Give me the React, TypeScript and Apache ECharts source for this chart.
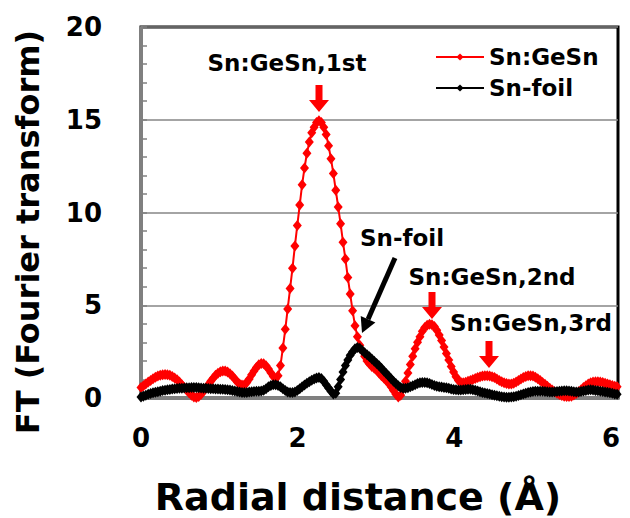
import React, { useEffect, useRef } from "react";
import * as echarts from "echarts";

// Radial grid step (Å) of the FT data
const R_STEP = 0.0307;

// FT magnitude, Sn:GeSn (red)
const gesnFT = [
  0.56, 0.66, 0.76, 0.86, 0.95, 1.04, 1.12, 1.18, 1.23, 1.26,
  1.27, 1.26, 1.22, 1.16, 1.08, 0.98, 0.86, 0.72, 0.57, 0.42,
  0.28, 0.15, 0.06, 0.03, 0.08, 0.2, 0.36, 0.54, 0.72, 0.9,
  1.07, 1.22, 1.34, 1.42, 1.46, 1.45, 1.4, 1.31, 1.18, 1.03,
  0.88, 0.76, 0.7, 0.72, 0.84, 1.03, 1.25, 1.46, 1.65, 1.79,
  1.86, 1.84, 1.74, 1.57, 1.36, 1.16, 1.05, 1.2, 1.75, 2.7,
  3.7, 4.8, 5.9, 7.0, 8.2, 9.3, 10.4, 11.5, 12.4, 13.2,
  13.8, 14.3, 14.6, 14.85, 14.95, 14.85, 14.6, 14.2, 13.6, 12.9,
  12.1, 11.2, 10.3, 9.4, 8.4, 7.5, 6.5, 5.6, 4.7, 3.9,
  3.3, 2.85, 2.55, 2.25, 2.0, 1.85, 1.7, 1.6, 1.5, 1.35,
  1.2, 1.08, 0.95, 0.8, 0.6, 0.4, 0.2, 0.06, 0.15, 0.5,
  0.9, 1.35, 1.8, 2.25, 2.65, 3.0, 3.3, 3.6, 3.8, 3.92,
  3.97, 3.95, 3.85, 3.65, 3.4, 3.1, 2.75, 2.4, 2.05, 1.7,
  1.4, 1.15, 0.95, 0.85, 0.82, 0.85, 0.9, 0.95, 1.0, 1.05,
  1.1, 1.15, 1.18, 1.2, 1.2, 1.18, 1.15, 1.1, 1.02, 0.95,
  0.88, 0.82, 0.78, 0.76, 0.76, 0.8, 0.86, 0.94, 1.02, 1.1,
  1.16, 1.2, 1.2, 1.18, 1.12, 1.04, 0.94, 0.84, 0.74, 0.63,
  0.53, 0.43, 0.34, 0.26, 0.19, 0.14, 0.1, 0.08, 0.08, 0.1,
  0.16, 0.24, 0.34, 0.45, 0.56, 0.66, 0.75, 0.82, 0.86, 0.88,
  0.88, 0.86, 0.83, 0.79, 0.75, 0.71, 0.67, 0.63, 0.6,
];

// FT magnitude, Sn-foil (black)
const foilFT = [
  0.05, 0.1, 0.15, 0.2, 0.24, 0.28, 0.31, 0.34, 0.37, 0.4,
  0.42, 0.44, 0.46, 0.48, 0.5, 0.51, 0.52, 0.53, 0.54, 0.55,
  0.55, 0.56, 0.56, 0.56, 0.55, 0.54, 0.53, 0.52, 0.51, 0.5,
  0.5, 0.49, 0.48, 0.47, 0.47, 0.46, 0.45, 0.43, 0.41, 0.38,
  0.35, 0.32, 0.3, 0.29, 0.3, 0.32, 0.34, 0.35, 0.36, 0.36,
  0.38, 0.42, 0.5, 0.6, 0.68, 0.72, 0.72, 0.68, 0.6, 0.5,
  0.4, 0.33, 0.3, 0.3, 0.33, 0.4, 0.5, 0.6, 0.7, 0.8,
  0.88, 0.96, 1.03, 1.08, 1.1, 1.05, 0.9, 0.72, 0.54, 0.36,
  0.22, 0.25, 0.6, 1.0, 1.4, 1.75, 2.05, 2.3, 2.5, 2.65,
  2.72, 2.68, 2.56, 2.44, 2.33, 2.22, 2.1, 1.98, 1.86, 1.74,
  1.6, 1.46, 1.32, 1.18, 1.04, 0.9, 0.78, 0.66, 0.57, 0.52,
  0.52, 0.55, 0.6, 0.66, 0.72, 0.78, 0.82, 0.84, 0.84, 0.82,
  0.78, 0.73, 0.68, 0.64, 0.61, 0.59, 0.57, 0.55, 0.52, 0.49,
  0.46, 0.44, 0.43, 0.43, 0.44, 0.46, 0.47, 0.47, 0.45, 0.42,
  0.38, 0.34, 0.3, 0.27, 0.24, 0.21, 0.18, 0.15, 0.12, 0.09,
  0.07, 0.05, 0.04, 0.04, 0.05, 0.07, 0.1, 0.14, 0.18, 0.22,
  0.26, 0.3, 0.33, 0.35, 0.36, 0.37, 0.37, 0.36, 0.35, 0.34,
  0.33, 0.33, 0.34, 0.35, 0.37, 0.38, 0.39, 0.39, 0.38, 0.36,
  0.34, 0.33, 0.33, 0.35, 0.38, 0.41, 0.43, 0.44, 0.43, 0.41,
  0.39, 0.37, 0.35, 0.33, 0.31, 0.28, 0.25, 0.22, 0.2,
];

const seriesNames = ["Sn:GeSn", "Sn-foil"];
const xTickValues = [0, 2, 4, 6];
const X_MAX = 6.09;

const FONT = '"DejaVu Sans", sans-serif';

function toPairs(vals: number[]) {
  return vals.map((v, i) => [Number((i * R_STEP).toFixed(4)), v]);
}

function redArrow(x: number, y: number) {
  return {
    type: "polygon",
    z: 100,
    shape: {
      points: [
        [x - 3.5, y],
        [x + 3.5, y],
        [x + 3.5, y + 15],
        [x + 10, y + 15],
        [x, y + 27],
        [x - 10, y + 15],
        [x - 3.5, y + 15],
      ],
    },
    style: { fill: "#FF0000" },
  };
}

function label(text: string, x: number, y: number, size = 23, rotation = 0) {
  return {
    type: "text",
    z: 100,
    x,
    y,
    rotation,
    style: {
      text,
      fill: "#000",
      fontSize: size,
      fontWeight: "bold",
      fontFamily: FONT,
      textAlign: "center",
      textVerticalAlign: "middle",
      align: "center",
      verticalAlign: "middle",
    },
  };
}

export default function App() {
  const ref = useRef<HTMLDivElement>(null);

  useEffect(() => {
    if (!ref.current) return;
    const chart = echarts.init(ref.current, undefined, { renderer: "svg" });

    // black arrow geometry (annotation layout)
    const tip = [362, 333];
    const start = [395, 258];
    const dx = tip[0] - start[0];
    const dy = tip[1] - start[1];
    const len = Math.sqrt(dx * dx + dy * dy);
    const ux = dx / len;
    const uy = dy / len;
    const headL = 15;
    const headW = 8;
    const bx = tip[0] - headL * ux;
    const by = tip[1] - headL * uy;
    const nx = -uy;
    const ny = ux;

    const symbolSize = [9, 11];

    chart.setOption({
      animation: false,
      backgroundColor: "#fff",
      grid: {
        left: 141,
        right: 12,
        top: 27,
        bottom: 120,
        show: true,
        borderColor: "#000",
        borderWidth: 3,
        backgroundColor: "#fff",
      },
      legend: {
        data: seriesNames,
        orient: "vertical",
        left: 430,
        top: 40,
        itemWidth: 48,
        itemHeight: 9,
        itemGap: 7,
        textStyle: {
          fontFamily: FONT,
          fontWeight: "bold",
          fontSize: 23,
          color: "#000",
          lineHeight: 24,
        },
      },
      xAxis: {
        type: "value",
        min: 0,
        max: X_MAX,
        interval: 2,
        axisLine: { show: true, onZero: false, lineStyle: { color: "#808080", width: 3 } },
        axisTick: { show: false },
        splitLine: { show: false },
        axisLabel: {
          margin: 27,
          color: "#000",
          fontFamily: FONT,
          fontWeight: "bold",
          fontSize: 26,
          formatter: (v: number) => (xTickValues.indexOf(v) >= 0 ? String(v) : ""),
        },
      },
      yAxis: {
        type: "value",
        min: 0,
        max: 20,
        interval: 5,
        axisLine: { show: true, lineStyle: { color: "#808080", width: 3 } },
        axisTick: {
          show: true,
          inside: true,
          length: 6,
          lineStyle: { color: "#808080", width: 1.5 },
        },
        minorTick: {
          show: true,
          splitNumber: 5,
          length: 6,
          lineStyle: { color: "#808080", width: 1.5 },
        },
        splitLine: { show: true, lineStyle: { color: "#868686", width: 1.5 } },
        axisLabel: {
          margin: 39,
          color: "#000",
          fontFamily: FONT,
          fontWeight: "bold",
          fontSize: 26,
        },
      },
      series: [
        {
          name: seriesNames[0],
          type: "line",
          data: toPairs(gesnFT),
          symbol: "diamond",
          symbolSize,
          showAllSymbol: true,
          itemStyle: { color: "#FF0000" },
          lineStyle: { color: "#FF0000", width: 2 },
          z: 2,
        },
        {
          name: seriesNames[1],
          type: "line",
          data: toPairs(foilFT),
          symbol: "diamond",
          symbolSize,
          showAllSymbol: true,
          itemStyle: { color: "#000" },
          lineStyle: { color: "#000", width: 2 },
          z: 3,
        },
      ],
      graphic: [
        label("Sn:GeSn,1st", 287, 63),
        redArrow(319, 85),
        label("Sn-foil", 402, 238),
        {
          type: "line",
          z: 100,
          shape: { x1: start[0], y1: start[1], x2: bx, y2: by },
          style: { stroke: "#000", lineWidth: 5 },
        },
        {
          type: "polygon",
          z: 100,
          shape: {
            points: [
              [tip[0], tip[1]],
              [bx + headW * nx, by + headW * ny],
              [bx - headW * nx, by - headW * ny],
            ],
          },
          style: { fill: "#000" },
        },
        label("Sn:GeSn,2nd", 492, 277),
        redArrow(432, 292),
        label("Sn:GeSn,3rd", 531, 323),
        redArrow(489, 341),
        label("Radial distance (Å)", 358, 497, 38),
        label("FT (Fourier transform)", 28, 232, 32, Math.PI / 2),
      ],
    });

    return () => {
      chart.dispose();
    };
  }, []);

  return (
    <div
      ref={ref}
      style={{ position: "fixed", left: 0, top: 0, width: 630, height: 518 }}
    />
  );
}
